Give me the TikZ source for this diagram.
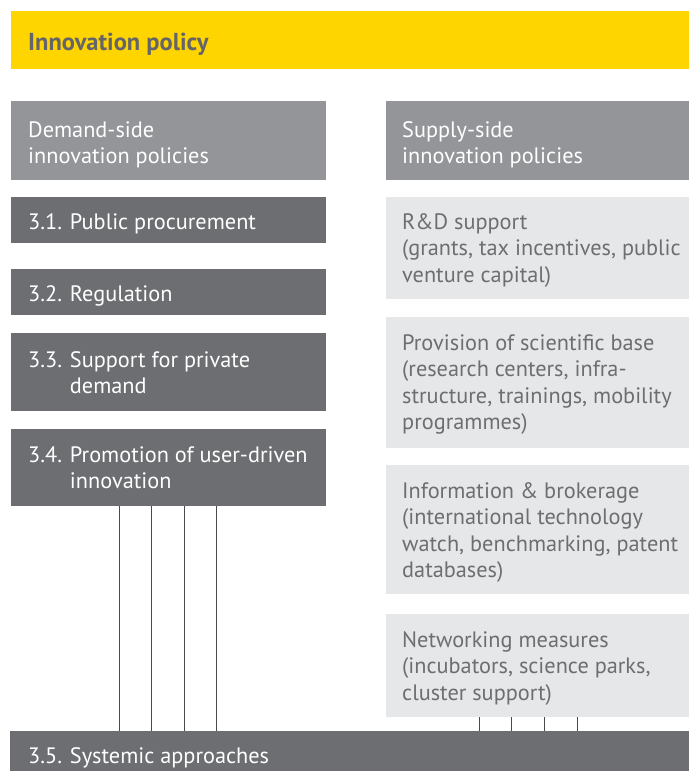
\documentclass[tikz,border=0pt]{standalone}
\usepackage{fontspec}
\setmainfont{PT Sans}
\definecolor{eyyellow}{HTML}{FFD500}
\definecolor{hdrgray}{HTML}{939598}
\definecolor{darkgray}{HTML}{6D6E71}
\definecolor{lightgray}{HTML}{E6E7E8}
\definecolor{titletext}{HTML}{646469}
\definecolor{linegray}{HTML}{4A4A4C}
\begin{document}
\begin{tikzpicture}[x=1pt,y=-1pt,
  boxbase/.style={anchor=north west, inner sep=0pt, draw=none},
  ybox/.style={boxbase, fill=eyyellow},
  hbox/.style={boxbase, fill=hdrgray},
  dbox/.style={boxbase, fill=darkgray},
  lbox/.style={boxbase, fill=lightgray},
  txt/.style={anchor=base west, inner sep=0pt, align=left, font=\fontsize{22.3}{26.5}\selectfont},
  wtxt/.style={txt, text=white},
  gtxt/.style={txt, text=darkgray},
  conn/.style={draw=linegray, line width=0.8pt},
]
\useasboundingbox (0,0) rectangle (689,771);
% title
\node[ybox, minimum width=678pt, minimum height=58pt] (title) at (11,11) {};
\node[txt, font=\fontsize{24.5}{28}\selectfont\bfseries, text=titletext] (titletxt) at (28,50) {Innovation policy};
% headers (base = last line)
\node[hbox, minimum width=315pt, minimum height=79pt] (dem) at (11,101) {};
\node[wtxt] (demtxt) at (28,163.5) {Demand-side\\innovation policies};
\node[hbox, minimum width=303pt, minimum height=79pt] (sup) at (386,101) {};
\node[wtxt] (suptxt) at (402,163.5) {Supply-side\\innovation policies};
% left boxes
\node[dbox, minimum width=315pt, minimum height=46pt] (b31) at (11,197) {};
\node[wtxt] (t31) at (28,229) {3.1. Public procurement};
\node[dbox, minimum width=315pt, minimum height=46pt] (b32) at (11,269) {};
\node[wtxt] (t32) at (28,301) {3.2. Regulation};
\node[dbox, minimum width=315pt, minimum height=78pt] (b33) at (11,333) {};
\node[wtxt] (t33) at (28,393.5) {3.3. Support for private\\\hphantom{3.3. }demand};
\node[dbox, minimum width=315pt, minimum height=77pt] (b34) at (11,429) {};
\node[wtxt] (t34) at (28,488.5) {3.4. Promotion of user-driven\\\hphantom{3.4. }innovation};
% right boxes
\node[lbox, minimum width=303pt, minimum height=102pt] (rd) at (386,197) {};
\node[gtxt] (trd) at (402,282) {R\&D support\\(grants, tax incentives, public\\venture capital)};
\node[lbox, minimum width=303pt, minimum height=131pt] (prov) at (386,317) {};
\node[gtxt] (tprov) at (402,429.5) {Provision of scientific base\\(research centers, infra-\\structure, trainings, mobility\\programmes)};
\node[lbox, minimum width=303pt, minimum height=129pt] (info) at (386,465) {};
\node[gtxt] (tinfo) at (402,577.5) {Information \& brokerage\\(international technology\\watch, benchmarking, patent\\databases)};
\node[lbox, minimum width=303pt, minimum height=103pt] (net) at (386,614) {};
\node[gtxt] (tnet) at (402,700) {Networking measures\\(incubators, science parks,\\cluster support)};
% systemic
\node[dbox, minimum width=679pt, minimum height=40pt] (b35) at (10,731) {};
\node[wtxt] (t35) at (28,763) {3.5. Systemic approaches};
% connectors
\foreach \x in {119,151,184,216}{
  \draw[conn] (b34.south west -| \x,0) -- (b35.north west -| \x,0);
}
\foreach \x in {479,511,544,577}{
  \draw[conn] (net.south west -| \x,0) -- (b35.north west -| \x,0);
}
\end{tikzpicture}
\end{document}
